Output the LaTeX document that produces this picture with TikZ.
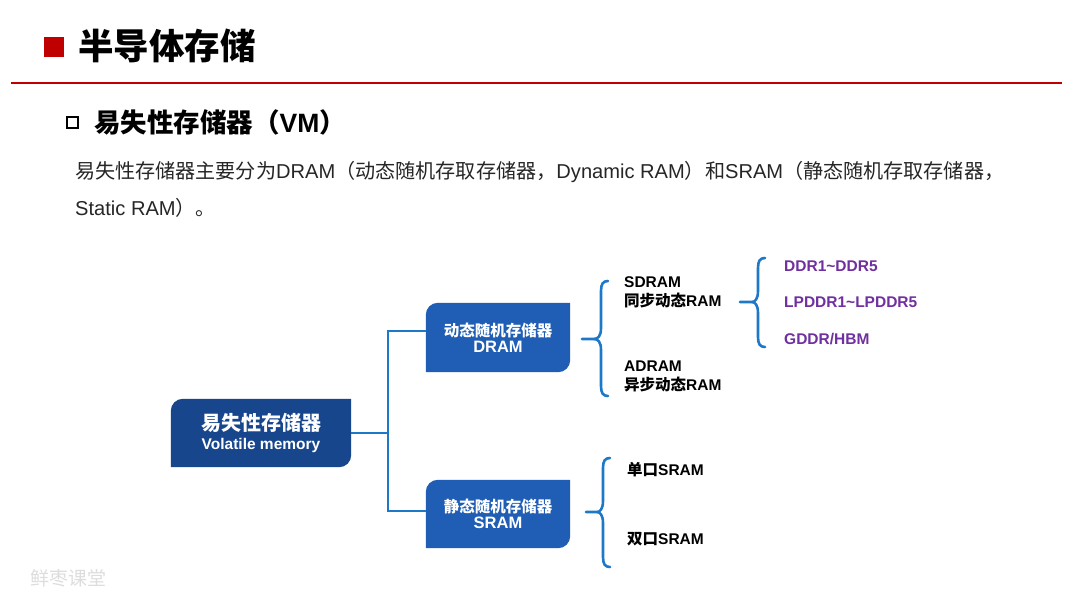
\documentclass[tikz,border=0pt]{standalone}
\usepackage{fontspec}
\setmainfont{Liberation Sans}
\newfontfamily\cjkf{Noto Sans CJK SC}
\newcommand\zh[1]{{\cjkf #1}}
\usetikzlibrary{backgrounds}
\definecolor{redA}{HTML}{C00000}
\definecolor{navyA}{HTML}{17468C}
\definecolor{blueA}{HTML}{1F5EB4}
\definecolor{lineA}{HTML}{1E78C8}
\definecolor{purpA}{HTML}{7030A0}
\definecolor{txtA}{HTML}{262626}
\definecolor{wmA}{HTML}{DDDDDD}
\tikzset{
  boxnode/.style={minimum width=#1, minimum height=68pt, inner sep=0pt, text=white, font=\bfseries, align=center},
  conn/.style={draw=lineA, line width=2.2pt},
  brc/.style={draw=lineA, line width=2.6pt, line cap=round},
  lbl/.style={anchor=west, inner sep=0pt, font=\bfseries\fontsize{15.5}{19}\selectfont, text=black, align=left},
  plbl/.style={anchor=west, inner sep=0pt, font=\bfseries\fontsize{15.5}{19}\selectfont, text=purpA},
}
% rounded top-left and bottom-right corners (radius 12pt)
\newcommand\tlbr[2]{%
  \fill[#2] (#1.south west) -- ([yshift=-12pt]#1.north west)
   .. controls ([yshift=-5.4pt]#1.north west) and ([xshift=5.4pt]#1.north west) .. ([xshift=12pt]#1.north west)
   -- (#1.north east) -- ([yshift=12pt]#1.south east)
   .. controls ([yshift=5.4pt]#1.south east) and ([xshift=-5.4pt]#1.south east) .. ([xshift=-12pt]#1.south east) -- cycle;}
% curly brace: #1 start x, #2 cusp x, #3 vertical x, #4 tip x, #5 top y, #6 mid y, #7 bottom y, #8 name
\newcommand\curlyb[8]{%
  \coordinate (#8) at (#1,#6);
  \draw[brc] (#8) -- (#2,#6) .. controls (#3-3,#6) and (#3,#6-3) .. (#3,#6-11) -- (#3,#5+10) .. controls (#3,#5+3) and (#3+2,#5) .. (#4,#5);
  \draw[brc] (#2,#6) .. controls (#3-3,#6) and (#3,#6+3) .. (#3,#6+11) -- (#3,#7-10) .. controls (#3,#7-3) and (#3+2,#7) .. (#4,#7);}
\begin{document}
\begin{tikzpicture}[x=1pt,y=-1pt]
\useasboundingbox (0,0) rectangle (1080,608);
% title
\node[fill=redA, minimum size=20pt, inner sep=0pt] (sq) at (54,47) {};
\node[anchor=west, inner sep=0pt, font=\bfseries\fontsize{35.5}{40}\selectfont] (title) at (78,46) {\zh{半导体存储}};
\coordinate (rl) at (11,83); \coordinate (rr) at (1062,83);
\draw[redA, line width=1.6pt] (rl) -- (rr);
% subtitle
\node[draw=black, line width=2pt, minimum size=11pt, inner sep=0pt] (hsq) at (72,122) {};
\node[anchor=west, inner sep=0pt, font=\bfseries\fontsize{26.5}{30}\selectfont] (sub) at (94,122) {\zh{易失性存储器（}VM\zh{）}};
% body
\node[anchor=west, inner sep=0pt, text=txtA, font=\fontsize{20.1}{24}\selectfont] (b1) at (75,172) {\zh{易失性存储器主要分为}DRAM\zh{（动态随机存取存储器，}Dynamic RAM\zh{）和}SRAM\zh{（静态随机存取存储器，}};
\node[anchor=west, inner sep=0pt, text=txtA, font=\fontsize{20.1}{24}\selectfont] (b2) at (75,208) {Static RAM\zh{）。}};
% boxes
\node[boxnode=180pt] (vm) at (261,433) {\fontsize{20}{24}\selectfont\zh{易失性存储器}\\[5pt]\fontsize{15.5}{18}\selectfont Volatile memory};
\node[boxnode=144pt, minimum height=69pt] (dram) at (498,337.5) {\fontsize{15.5}{19}\selectfont\zh{动态随机存储器}\\[2pt]\fontsize{16.5}{19}\selectfont DRAM};
\node[boxnode=144pt] (sram) at (498,514) {\fontsize{15.5}{19}\selectfont\zh{静态随机存储器}\\[2pt]\fontsize{16.5}{19}\selectfont SRAM};
\begin{pgfonlayer}{background}
\fill[white] (0,0) rectangle (1080,608);
\tlbr{vm}{navyA}
\tlbr{dram}{blueA}
\tlbr{sram}{blueA}
\end{pgfonlayer}
% connectors
\draw[conn] (vm.east) -- ++(37,0) |- ([yshift=6.5pt]dram.west);
\draw[conn] (vm.east) -- ++(37,0) |- ([yshift=3pt]sram.west);
% braces
\curlyb{582}{594}{601}{608}{281}{339}{396}{bd}
\curlyb{740}{752}{758}{765}{258}{302}{347}{bs}
\curlyb{586}{597}{603}{610}{458}{512}{567}{bsr}
% labels
\node[lbl] (sd) at (624,292) {SDRAM\\\zh{同步动态}RAM};
\node[lbl] (ad) at (624,376) {ADRAM\\\zh{异步动态}RAM};
\node[plbl] (p1) at (784,266) {DDR1\textasciitilde DDR5};
\node[plbl] (p2) at (784,302) {LPDDR1\textasciitilde LPDDR5};
\node[plbl] (p3) at (784,339) {GDDR/HBM};
\node[lbl] (s1) at (627,470) {\zh{单口}SRAM};
\node[lbl] (s2) at (627,539) {\zh{双口}SRAM};
% watermark
\node[anchor=west, inner sep=0pt, text=wmA, font=\fontsize{19}{22}\selectfont] (wm) at (30,578) {\zh{鲜枣课堂}};
\end{tikzpicture}
\end{document}
